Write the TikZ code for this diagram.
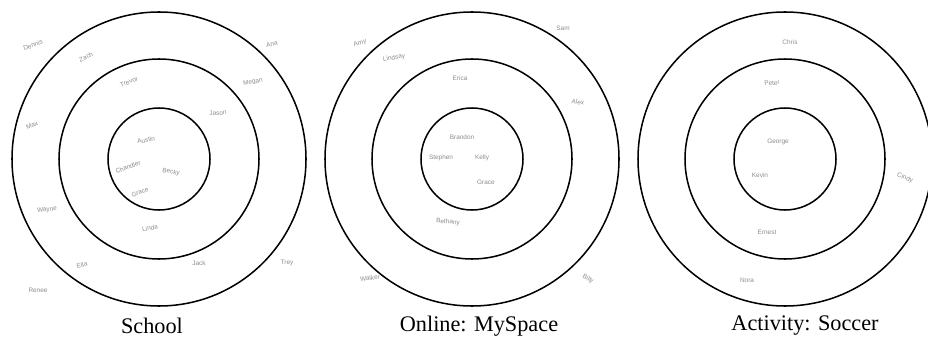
\documentclass[tikz,border=0pt]{standalone}
\usepackage{fontspec}
\setmainfont{Liberation Serif}
\setsansfont{Liberation Sans}

\tikzset{
  ring/.style={line width=1.3pt},
  pal/.style={font=\fontsize{5.5}{6}\sffamily, text=black!45, inner sep=1pt},
  caption/.style={font=\fontsize{19}{22}\selectfont}
}

\begin{document}
\begin{tikzpicture}[x=0.3mm,y=-0.3mm]
    \useasboundingbox (0,0) rectangle (928,337);
    % Rings
    \foreach \c/\x in {school/159,online/472,soccer/785} {
        \coordinate (\c) at (\x,159);
        \foreach \r in {44.1mm,30mm,15.3mm}
            \draw[ring] (\c) circle[radius=\r];
    }
    % School
    \foreach \n/\x/\y/\a/\t in {s1/33/45/20/Dennis, s2/86/57/25/Zach,
        s3/272/44/10/Ana, s4/253/82/10/Megan, s5/129/82/20/Trevor,
        s6/218/113/5/Jason, s7/32/125/20/Max, s8/146/140/10/Austin,
        s9/128/167/20/Chandler, s10/171/172/-10/Becky, s11/140/192/20/Grace,
        s12/47/210/5/Wayne, s13/150/228/10/Linda, s14/82/265/15/Ella,
        s15/199/263/0/Jack, s16/287/263/0/Trey, s17/38/290/0/Renee} {
        \node[pal,rotate=\a] (\n) at (\x,\y) {\t};
    }
    % Online
    \foreach \n/\x/\y/\a/\t in {o1/360/43/15/Amy, o2/394/58/10/Lindsay,
        o3/563/28/0/Sam, o4/460/78/0/Erica, o5/578/102/-10/Alex,
        o6/462/137/0/Brandon, o7/441/158/0/Stephen, o8/482/158/0/Kelly,
        o9/486/182/0/Grace, o10/448/222/-5/Bethany, o11/370/278/5/Walker,
        o12/588/279/-30/Billy} {
        \node[pal,rotate=\a] (\n) at (\x,\y) {\t};
    }
    % Soccer
    \foreach \n/\x/\y/\a/\t in {a1/790/42/0/Chris, a2/772/83/5/Peter,
        a3/778/142/0/George, a4/760/175/0/Kevin, a5/905/178/-20/Cindy,
        a6/767/232/0/Ernest, a7/747/280/0/Nora} {
        \node[pal,rotate=\a] (\n) at (\x,\y) {\t};
    }
    % Captions
    \node[caption] (cap1) at (152,326) {School};
    \node[caption] (cap2) at (479,326) {Online: MySpace};
    \node[caption] (cap3) at (805,326) {Activity: Soccer};
\end{tikzpicture}
\end{document}
